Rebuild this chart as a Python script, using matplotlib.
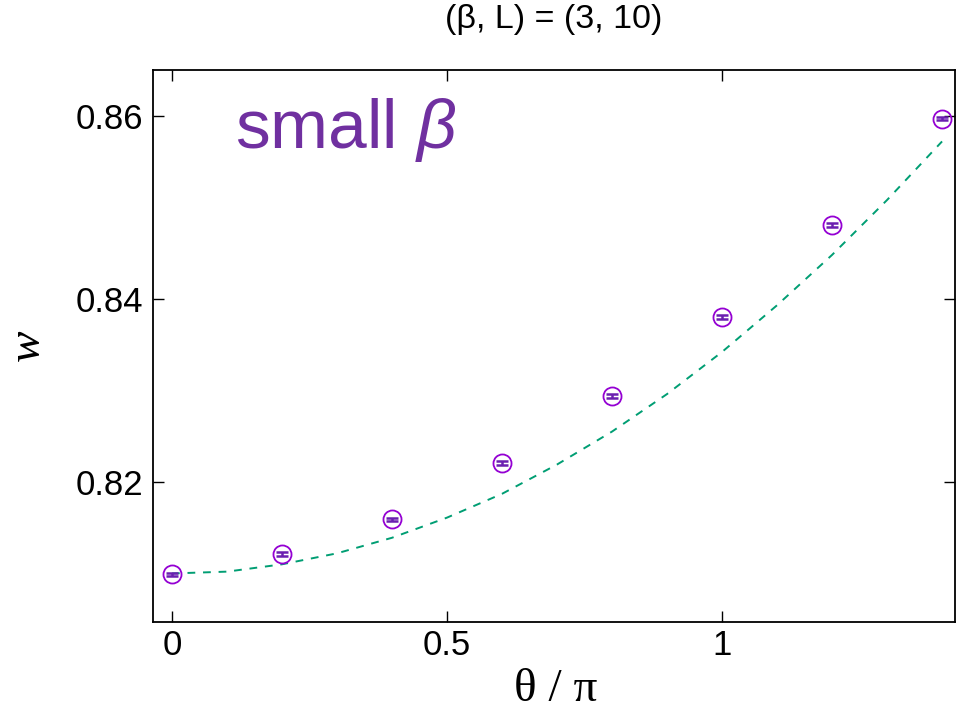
import numpy as np
from matplotlib import pyplot as plt

plt.rcParams['font.family'] = ['Liberation Sans', 'DejaVu Sans']
plt.rcParams['mathtext.fontset'] = 'custom'
plt.rcParams['mathtext.it'] = 'Liberation Sans:italic'
plt.rcParams['mathtext.rm'] = 'Liberation Sans'

# measured w vs theta/pi
theta = [0.0, 0.2, 0.4, 0.6, 0.8, 1.0, 1.2, 1.4]
w = [0.8099, 0.8121, 0.8159, 0.8221, 0.8294, 0.8380, 0.8481, 0.8597]
w_err = [0.0002, 0.0002, 0.0002, 0.0002, 0.0002, 0.0002, 0.0002, 0.0002]

# fitted curve, read at steps of 0.1
fit_theta = [0.0, 0.1, 0.2, 0.3, 0.4, 0.5, 0.6, 0.7, 0.8, 0.9, 1.0, 1.1, 1.2, 1.3, 1.4]
fit_w = [0.8100, 0.8102, 0.8110, 0.8122, 0.8139, 0.8161, 0.8187, 0.8219,
         0.8255, 0.8296, 0.8342, 0.8393, 0.8448, 0.8508, 0.8572]

fig = plt.figure(figsize=(9.56, 7.11), dpi=100)
ax = fig.add_axes([0.160, 0.1252, 0.839, 0.7763])

ax.plot(fit_theta, fit_w, linestyle=(0, (4, 4)), color='#009e73', lw=1.4)
ax.errorbar(theta, w, yerr=w_err, fmt='none', ecolor='#6a1fb0', elinewidth=1.8,
            capsize=4, capthick=1.8)
ax.plot(theta, w, 'o', ms=13, mfc='none', mec='#9400d3', mew=1.3)

ax.set_xlim(-0.0345, 1.4236)
ax.set_ylim(0.8047, 0.865)
ax.set_xticks([0, 0.5, 1])
ax.set_xticklabels(['0', '0.5', '1'])
ax.set_yticks([0.82, 0.84, 0.86])
ax.set_yticklabels(['0.82', '0.84', '0.86'])
ax.tick_params(direction='in', length=8, width=1, top=True, right=True,
               labelsize=25)
ax.tick_params(axis='x', pad=5)
ax.tick_params(axis='y', pad=7)
for s in ax.spines.values():
    s.set_linewidth(1.3)

ax.set_xlabel(r'θ / π', family='Liberation Serif', fontsize=34)
ax.xaxis.set_label_coords(0.502, -0.123)
ax.xaxis.label.set_va('center')
ax.set_ylabel('w', family='Liberation Serif', style='italic', fontsize=34)
ax.yaxis.set_label_coords(-0.156, 0.502)
ax.yaxis.label.set_va('center')
ax.set_title('(β, L) = (3, 10)', fontsize=24.5, y=1.076, va='center')

ax.text(0.102, 0.953, r'small $\beta$', transform=ax.transAxes, fontsize=50,
        color='#7030a0', va='top')

fig.savefig('out.png', dpi=100)
